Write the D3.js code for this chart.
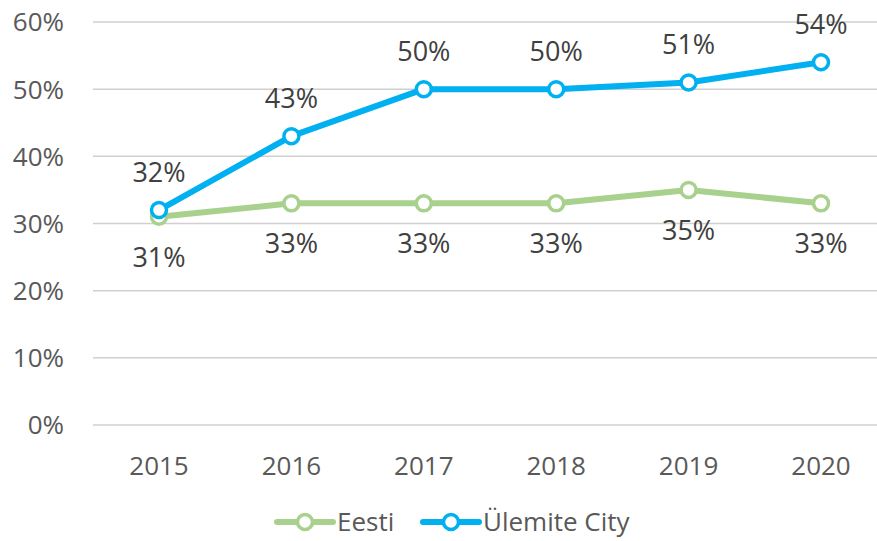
<!DOCTYPE html>
<html>
<head>
<meta charset="utf-8">
<script src="https://cdn.jsdelivr.net/npm/d3@7"></script>
<style>
  body { margin: 0; background: #fff; }
  svg { display: block; }
</style>
</head>
<body>
<div id="chart"></div>
<script>
var years = ["2015", "2016", "2017", "2018", "2019", "2020"];
var eesti = [31, 33, 33, 33, 35, 33];
var ulemite = [32, 43, 50, 50, 51, 54];
var yTicks = [0, 10, 20, 30, 40, 50, 60];

var width = 877, height = 541;
var font = "'Open Sans', sans-serif";

var svg = d3.select("#chart").append("svg")
  .attr("width", width)
  .attr("height", height);

const x = d3.scalePoint()
  .domain(years)
  .range([159, 821]);
const y = d3.scaleLinear()
  .domain([0, 60])
  .range([425, 22]);

// gridlines
svg.append("g")
  .selectAll("line")
  .data(yTicks)
  .enter()
  .append("line")
  .attr("x1", 93)
  .attr("x2", width)
  .attr("y1", d => y(d))
  .attr("y2", d => y(d))
  .style("stroke", "#d0d0d0")
  .style("stroke-width", 1.5);

// y labels
svg.append("g")
  .selectAll("text")
  .data(yTicks)
  .enter()
  .append("text")
  .attr("x", 64)
  .attr("y", d => y(d))
  .attr("dy", "0.36em")
  .attr("text-anchor", "end")
  .style("font", "26px " + font)
  .style("fill", "#595959")
  .text(d => d + "%");

// x labels
svg.append("g")
  .selectAll("text")
  .data(years)
  .enter()
  .append("text")
  .attr("x", d => x(d))
  .attr("y", 475)
  .attr("text-anchor", "middle")
  .style("font", "26px " + font)
  .style("fill", "#595959")
  .text(d => d);

var series = [
  { name: "Eesti", values: eesti, color: "#a9d18e", width: 6, above: false },
  { name: "Ülemite City", values: ulemite, color: "#00b0f0", width: 6, above: true }
];

const line = d3.line()
  .x((d, i) => x(years[i]))
  .y(d => y(d));

series.forEach(s => {
  var g = svg.append("g");
  g.append("path")
    .datum(s.values)
    .attr("d", line)
    .style("fill", "none")
    .style("stroke", s.color)
    .style("stroke-width", s.width)
    .style("stroke-linejoin", "round");
  g.selectAll("circle")
    .data(s.values)
    .enter()
    .append("circle")
    .attr("cx", (d, i) => x(years[i]))
    .attr("cy", d => y(d))
    .attr("r", 7.5)
    .style("fill", "#fff")
    .style("stroke", s.color)
    .style("stroke-width", 3.5);
  g.selectAll("text")
    .data(s.values)
    .enter()
    .append("text")
    .attr("x", (d, i) => x(years[i]))
    .attr("y", d => s.above ? y(d) - 28 : y(d) + 50)
    .attr("text-anchor", "middle")
    .style("font", "27px " + font)
    .style("fill", "#404040")
    .text(d => d + "%");
});

// legend
var legendX = [277, 423];
series.forEach((s, i) => {
  var lg = svg.append("g").attr("transform", "translate(" + legendX[i] + ",522)");
  lg.append("line")
    .attr("x1", 0).attr("x2", 56)
    .attr("y1", 0).attr("y2", 0)
    .style("stroke", s.color)
    .style("stroke-width", s.width)
    .style("stroke-linecap", "round");
  lg.append("circle")
    .attr("cx", 28).attr("cy", 0).attr("r", 7.5)
    .style("fill", "#fff")
    .style("stroke", s.color)
    .style("stroke-width", 3.5);
  lg.append("text")
    .attr("x", 60).attr("y", 0).attr("dy", "0.34em")
    .style("font", "26px " + font)
    .style("fill", "#595959")
    .text(s.name);
});
</script>
</body>
</html>
